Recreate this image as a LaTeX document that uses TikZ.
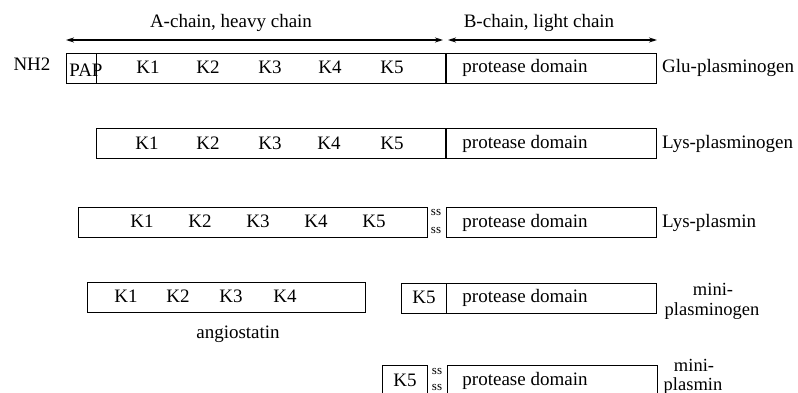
\documentclass[tikz,border=0pt]{standalone}
\usepackage{fontspec}
\setmainfont{Liberation Serif}
\usetikzlibrary{arrows.meta}
\begin{document}
\begin{tikzpicture}[x=1pt,y=-1pt,
  dom/.style={draw, line width=1.3pt, anchor=north west, inner sep=0pt, minimum height=30pt},
  txt/.style={font=\fontsize{19}{20}\selectfont, inner sep=0pt},
  twoline/.style={font=\fontsize{18.5}{19}\selectfont, inner sep=0pt},
  sstxt/.style={font=\fontsize{13}{13}\selectfont, inner sep=0pt},
  molname/.style={txt, anchor=west},
  chain/.style={line width=1.3pt, {Stealth[length=8pt,width=5pt]}-{Stealth[length=8pt,width=5pt]}}
]
\useasboundingbox (0,0) rectangle (798,393);

% chain extents
\coordinate (ha) at (66,40);
\coordinate (hb) at (443,40);
\coordinate (la) at (448,40);
\coordinate (lb) at (657,40);
\draw[chain] (ha) -- (hb);
\draw[chain] (la) -- (lb);
\node[txt] (heavy) at (231,23) {A-chain, heavy chain};
\node[txt] (light) at (539,23) {B-chain, light chain};

% Glu-plasminogen
\node[txt] (nh2) at (32,64) {NH2};
\node[dom, minimum width=30pt] (pap) at (66,53) {};
\node[dom, minimum width=349pt] (a1) at (96,53) {};
\node[dom, minimum width=210pt] (b1) at (446,53) {};
\node[txt] (pap-t) at (86,70) {PAP};
\foreach \k/\x in {1/148,2/208,3/270,4/330,5/392}
  \node[txt] (k\k-1) at (\x,67) {K\k};
\node[txt] (p1) at (525,68) {protease domain};
\node[molname] (glu) at (662,68) {Glu-plasminogen};

% Lys-plasminogen
\node[dom, minimum width=349pt] (a2) at (96,128) {};
\node[dom, minimum width=210pt] (b2) at (446,128) {};
\foreach \k/\x in {1/147,2/208,3/270,4/329,5/392}
  \node[txt] (k\k-2) at (\x,143) {K\k};
\node[txt] (p2) at (525,144) {protease domain};
\node[molname] (lysg) at (662,144) {Lys-plasminogen};

% Lys-plasmin
\node[dom, minimum width=349pt] (a3) at (78,207) {};
\node[dom, minimum width=210pt] (b3) at (446,207) {};
\foreach \k/\x in {1/142,2/200,3/258,4/316,5/374}
  \node[txt] (k\k-3) at (\x,221) {K\k};
\node[sstxt] (ss3a) at (436,213) {ss};
\node[sstxt] (ss3b) at (436,230) {ss};
\node[txt] (p3) at (525,223) {protease domain};
\node[molname] (lys) at (662,223) {Lys-plasmin};

% angiostatin and mini-plasminogen
\node[dom, minimum width=278pt] (ang) at (87,282) {};
\foreach \k/\x in {1/126,2/178,3/231,4/285}
  \node[txt] (k\k-4) at (\x,296) {K\k};
\node[txt] (angt) at (238,334) {angiostatin};
\node[dom, minimum width=45pt] (k5m) at (401,283) {};
\node[dom, minimum width=210pt] (b4) at (446,283) {};
\node[txt] (k5-4) at (424,297) {K5};
\node[txt] (p4) at (525,298) {protease domain};
\node[twoline] (ming1) at (713,289) {mini-};
\node[twoline] (ming2) at (712,311) {plasminogen};

% mini-plasmin
\node[dom, minimum width=45pt] (k5p) at (382,365) {};
\node[dom, minimum width=210pt] (b5) at (447,365) {};
\node[txt] (k5-5) at (405,380) {K5};
\node[sstxt] (ss5a) at (437,371) {ss};
\node[sstxt] (ss5b) at (437,387) {ss};
\node[txt] (p5) at (525,381) {protease domain};
\node[twoline] (minp1) at (694,365) {mini-};
\node[twoline] (minp2) at (693,386) {plasmin};
\end{tikzpicture}
\end{document}
